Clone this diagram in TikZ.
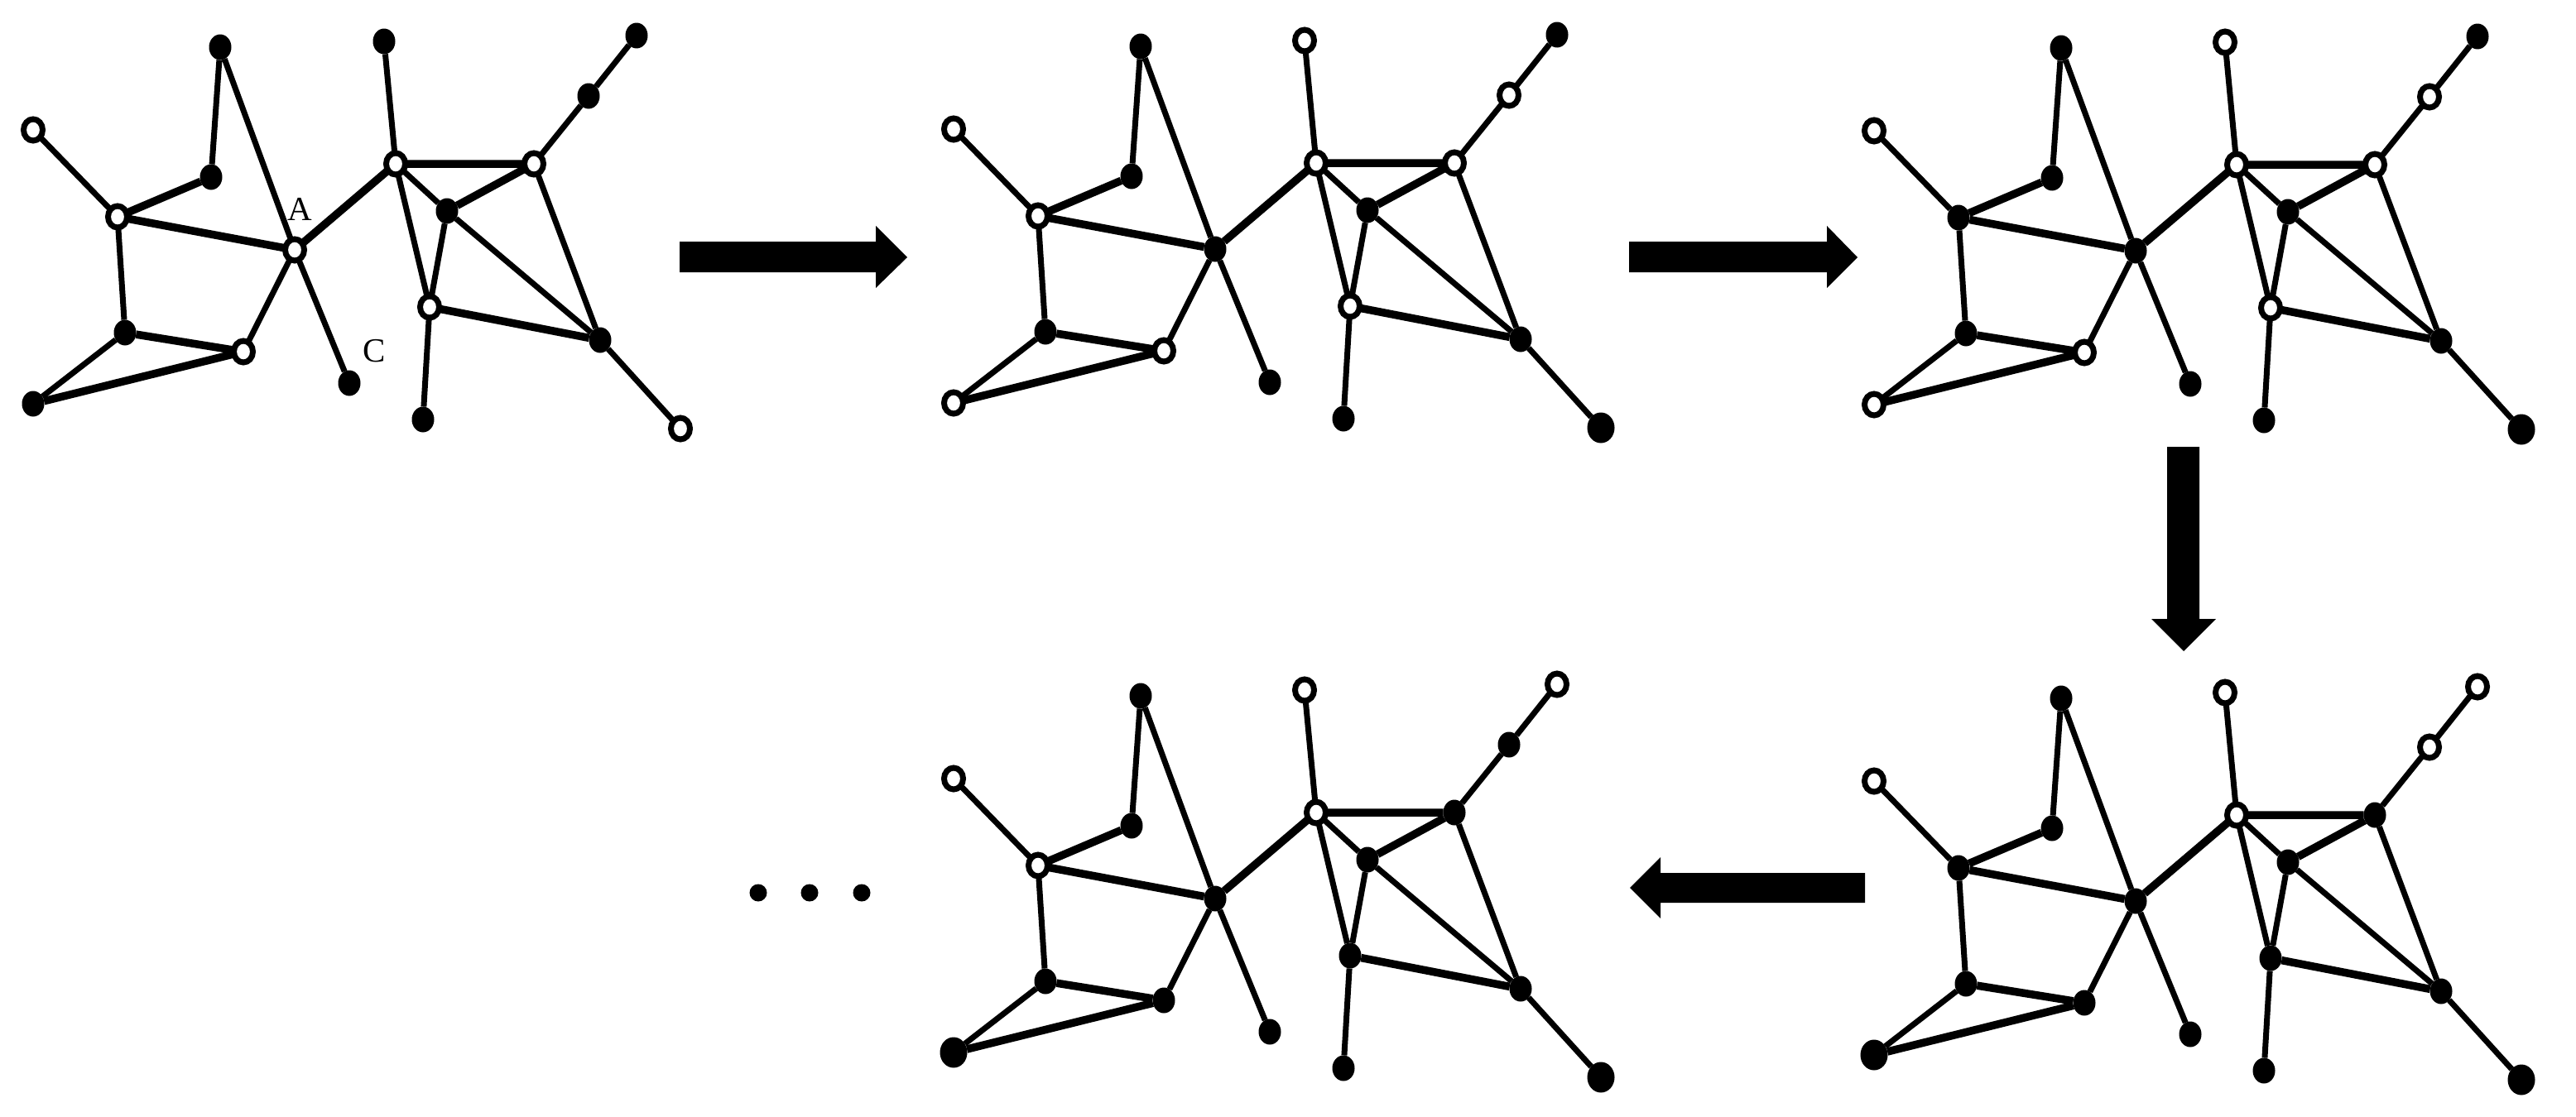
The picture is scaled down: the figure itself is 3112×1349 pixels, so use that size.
\documentclass[tikz,border=0pt]{standalone}
\usepackage{fontspec}
\setmainfont{Liberation Serif}
\usetikzlibrary{shapes.geometric}
\pgfdeclarelayer{bg}
\pgfsetlayers{bg,main}
\tikzset{
  wn/.style={ellipse, draw=black, fill=white, line width=7pt, minimum width=23pt, minimum height=26pt, inner sep=0pt, outer sep=0pt},
  bn/.style={ellipse, fill=black, minimum width=27pt, minimum height=31pt, inner sep=0pt, outer sep=0pt},
  bbn/.style={bn, minimum width=33pt, minimum height=37pt},
  ed/.style={line width=7pt},
  thk/.style={line width=9.5pt},
  sn1/.style=bn, sn2/.style=bn, sn3/.style=bn, sn4/.style=bn, sA/.style=bn,
  sn6/.style=bn, sn7/.style=bn, sn8/.style=bn, sC/.style=bn,
  sr1/.style=bn, sr2/.style=bn, sr3/.style=bn, sr4/.style=bn, sr5/.style=bn,
  sr6/.style=bn, sr7/.style=bn, sr8/.style=bn, sr9/.style=bn, sr10/.style=bn,
  lbl/.style={font=\fontsize{41}{48}\selectfont, inner sep=0pt},
  blockarrow/.style={fill=black}
}
\newcommand\gph[1]{%
  \node[sn1] (#1n1) at (266,57) {};
  \node[sn2] (#1n2) at (40,157) {};
  \node[sn3] (#1n3) at (255,214) {};
  \node[sn4] (#1n4) at (142,262) {};
  \node[sA] (#1A) at (356,302) {};
  \node[sn6] (#1n6) at (151,402) {};
  \node[sn7] (#1n7) at (294,425) {};
  \node[sn8] (#1n8) at (40,488) {};
  \node[sC] (#1C) at (422,463) {};
  \node[sr1] (#1r1) at (464,50) {};
  \node[sr2] (#1r2) at (478,198) {};
  \node[sr3] (#1r3) at (645,198) {};
  \node[sr4] (#1r4) at (711,116) {};
  \node[sr5] (#1r5) at (769,43) {};
  \node[sr6] (#1r6) at (540,255) {};
  \node[sr7] (#1r7) at (519,371) {};
  \node[sr8] (#1r8) at (725,411) {};
  \node[sr9] (#1r9) at (511,507) {};
  \node[sr10] (#1r10) at (822,518) {};
  \begin{pgfonlayer}{bg}
  \draw[ed] (#1n1)--(#1n3) (#1n1)--(#1A) (#1n2)--(#1n4) (#1n4)--(#1n6)
    (#1n6)--(#1n8) (#1n7)--(#1A) (#1A)--(#1C) (#1r2)--(#1r1) (#1r2)--(#1r6)
    (#1r2)--(#1r7) (#1r3)--(#1r4) (#1r4)--(#1r5) (#1r3)--(#1r8) (#1r6)--(#1r7)
    (#1r6)--(#1r8) (#1r7)--(#1r9) (#1r8)--(#1r10);
  \draw[thk] (#1n3)--(#1n4) (#1n4)--(#1A) (#1n6)--(#1n7) (#1n8)--(#1n7)
    (#1A)--(#1r2) (#1r2)--(#1r3) (#1r3)--(#1r6) (#1r7)--(#1r8);
  \end{pgfonlayer}
}
\begin{document}
\begin{tikzpicture}[x=1pt,y=-1pt]
\useasboundingbox (0,0) rectangle (3112,1349);
% graph 1
\begin{scope}[sn2/.style=wn, sn4/.style=wn, sA/.style=wn, sn7/.style=wn,
  sr2/.style=wn, sr3/.style=wn, sr7/.style=wn, sr10/.style=wn]
  \gph{a}
  \node[lbl] (labA) at (362,253) {A};
  \node[lbl] (labC) at (452,424) {C};
\end{scope}
% graph 2
\begin{scope}[shift={(1112,-1)}, sn2/.style=wn, sn4/.style=wn, sn7/.style=wn, sn8/.style=wn,
  sr1/.style=wn, sr2/.style=wn, sr3/.style=wn, sr4/.style=wn, sr7/.style=wn, sr10/.style=bbn]
  \gph{b}
\end{scope}
% graph 3
\begin{scope}[shift={(2224,1)}, sn2/.style=wn, sn7/.style=wn, sn8/.style=wn,
  sr1/.style=wn, sr2/.style=wn, sr3/.style=wn, sr4/.style=wn, sr7/.style=wn, sr10/.style=bbn]
  \gph{c}
\end{scope}
% graph 4 (bottom right)
\begin{scope}[shift={(2224,787)}, sn2/.style=wn, sr1/.style=wn, sr2/.style=wn,
  sr4/.style=wn, sr5/.style=wn, sn8/.style=bbn, sr10/.style=bbn]
  \gph{d}
\end{scope}
% graph 5 (bottom middle)
\begin{scope}[shift={(1112,784)}, sn2/.style=wn, sn4/.style=wn, sr1/.style=wn,
  sr2/.style=wn, sr5/.style=wn, sn8/.style=bbn, sr10/.style=bbn]
  \gph{e}
\end{scope}
% block arrows
\fill[blockarrow] (821,292) -- (1058,292) -- (1058,273) -- (1096,311) -- (1058,348) -- (1058,329) -- (821,329) -- cycle;
\fill[blockarrow] (1968,292) -- (2207,292) -- (2207,273) -- (2244,311) -- (2207,348) -- (2207,329) -- (1968,329) -- cycle;
\fill[blockarrow] (2618,540) -- (2657,540) -- (2657,748) -- (2677,748) -- (2638,787) -- (2599,748) -- (2618,748) -- cycle;
\fill[blockarrow] (2253,1055) -- (2006,1055) -- (2006,1036) -- (1969,1073) -- (2006,1110) -- (2006,1091) -- (2253,1091) -- cycle;
% dots
\fill (916,1079) circle[radius=10.5pt];
\fill (978,1079) circle[radius=10.5pt];
\fill (1041,1079) circle[radius=10.5pt];
\end{tikzpicture}
\end{document}
